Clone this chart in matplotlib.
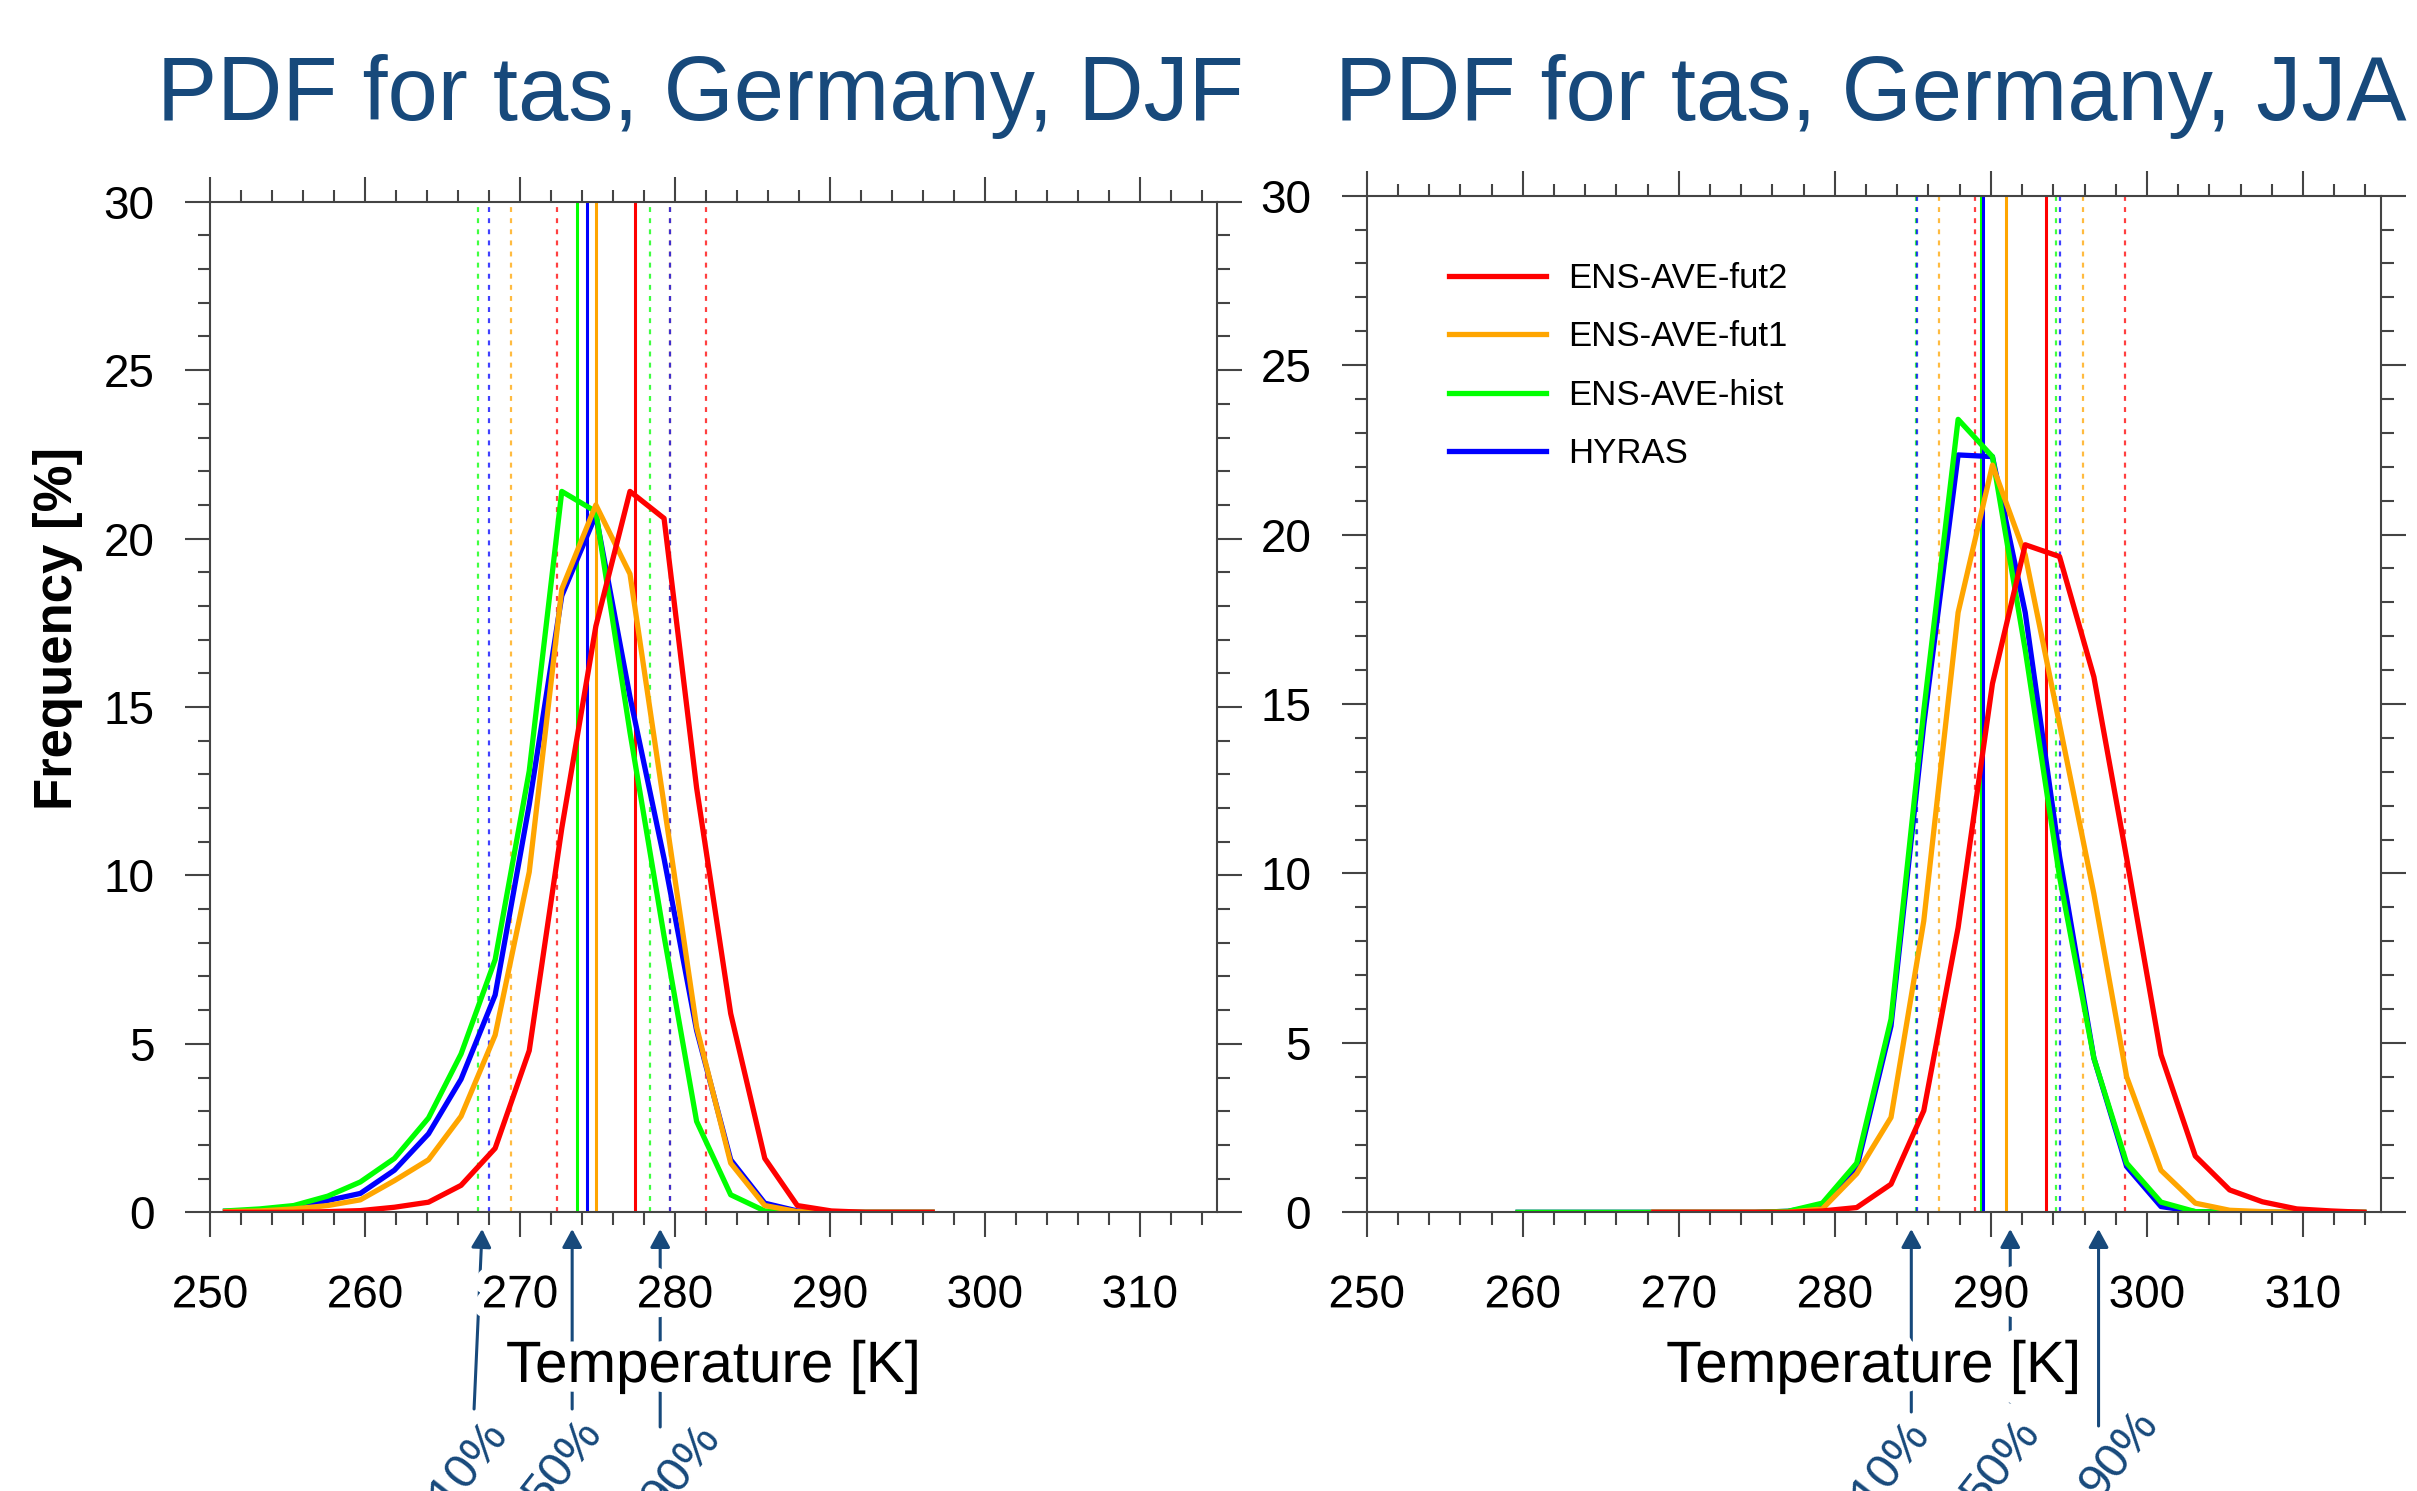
import numpy as np
import matplotlib
matplotlib.use("Agg")
import matplotlib.pyplot as plt
import matplotlib.transforms as mtransforms
from matplotlib import patheffects
from matplotlib.ticker import MultipleLocator

plt.rcParams['font.family'] = ['Liberation Sans', 'DejaVu Sans']

W, H = 2417, 1491
NAVY = '#17497b'

labels = ['ENS-AVE-fut2', 'ENS-AVE-fut1', 'ENS-AVE-hist', 'HYRAS']
colors = ['#ff0000', '#ffa500', '#00ff00', '#0000ff']

# DJF (winter) pdf, bin centres in K, frequency in %
djf_t = [251.0, 253.2, 255.4, 257.6, 259.7, 261.9, 264.1, 266.2, 268.4, 270.6, 272.7,
         274.9, 277.1, 279.3, 281.4, 283.6, 285.8, 287.9, 290.1, 292.3, 294.4, 296.6]
djf_fut2 = [0.0, 0.0, 0.0, 0.02, 0.05, 0.15, 0.3, 0.8, 1.9, 4.8, 11.4,
            17.4, 21.4, 20.6, 12.6, 5.9, 1.6, 0.2, 0.04, 0.0, 0.0, 0.0]
djf_fut1 = [0.02, 0.04, 0.1, 0.2, 0.37, 0.94, 1.56, 2.85, 5.26, 10.1, 18.5,
            21.0, 18.95, 12.1, 5.5, 1.46, 0.2, 0.02, 0.0, 0.0, 0.0, 0.0]
djf_hist = [0.04, 0.1, 0.2, 0.48, 0.9, 1.6, 2.8, 4.7, 7.5, 13.1, 21.4,
            20.8, 14.25, 8.2, 2.7, 0.52, 0.04, 0.0, 0.0, 0.0, 0.0, 0.0]
djf_hyras = [0.03, 0.06, 0.15, 0.35, 0.56, 1.25, 2.33, 3.95, 6.45, 12.1, 18.3,
             20.7, 15.3, 10.5, 5.4, 1.56, 0.27, 0.04, 0.0, 0.0, 0.0, 0.0]

# JJA (summer) pdf
jja_t = [259.7, 261.9, 264.0, 266.2, 268.4, 270.5, 272.7, 274.9, 277.0, 279.2, 281.4, 283.6, 285.7,
         287.9, 290.1, 292.2, 294.4, 296.6, 298.7, 300.9, 303.1, 305.3, 307.4, 309.6, 311.8, 313.9]
jja_fut2 = [np.nan, np.nan, np.nan, np.nan, 0.0, 0.0, 0.0, 0.0, 0.0, 0.04, 0.14, 0.83, 3.0,
            8.4, 15.6, 19.7, 19.35, 15.8, 10.45, 4.65, 1.66, 0.66, 0.31, 0.1, 0.04, 0.0]
jja_fut1 = [np.nan, np.nan, np.nan, np.nan, 0.0, 0.0, 0.0, 0.0, 0.0, 0.1, 1.14, 2.8, 8.6,
            17.7, 22.05, 19.4, 14.4, 9.4, 4.0, 1.24, 0.27, 0.06, 0.02, 0.0, 0.0, 0.0]
jja_hist = [0.0, 0.0, 0.0, 0.0, 0.0, 0.0, 0.0, 0.0, 0.03, 0.27, 1.45, 5.7, 14.8,
            23.4, 22.3, 16.6, 9.9, 4.55, 1.45, 0.3, 0.02, 0.0, 0.0, 0.0, 0.0, 0.0]
jja_hyras = [0.0, 0.0, 0.0, 0.0, 0.0, 0.0, 0.0, 0.0, 0.03, 0.2, 1.3, 5.5, 14.4,
             22.35, 22.3, 17.7, 10.5, 4.55, 1.35, 0.17, 0.02, 0.0, 0.0, 0.0, 0.0, 0.0]

# percentiles (order: fut2, fut1, hist, HYRAS)
djf_p10 = [272.4, 269.4, 267.3, 268.0]
djf_p50 = [277.4, 274.9, 273.65, 274.35]
djf_p90 = [282.0, 279.7, 278.4, 279.7]
jja_p10 = [289.0, 286.7, 285.2, 285.25]
jja_p50 = [293.5, 291.0, 289.35, 289.5]
jja_p90 = [298.6, 295.9, 294.15, 294.45]

pct_names = ['10%', '50%', '90%']
# arrow tips / tails in K, tail heights in px, label positions in px
djf_arrow_tip = [267.56, 273.37, 279.05]
djf_arrow_tail = [267.04, 273.37, 279.05]
djf_tail_px = [1409, 1409, 1427]
djf_pct_xy = [(468, 1412), (563, 1412), (682, 1416)]
jja_arrow_tip = [284.9, 291.24, 296.9]
jja_arrow_tail = [284.9, 291.24, 296.9]
jja_tail_px = [1412, 1402, 1426]
jja_pct_xy = [(1890, 1412), (2001, 1412), (2120, 1402)]

fig = plt.figure(figsize=(W / 100, H / 100), dpi=100)


def px_axes(x0, y0, x1, y1):
    return fig.add_axes([x0 / W, 1 - y1 / H, (x1 - x0) / W, (y1 - y0) / H])


ax_djf = px_axes(210, 201.7, 1217.3, 1212.3)
ax_jja = px_axes(1366.7, 195.7, 2381, 1212.3)

panels = [
    (ax_djf, 'DJF', 700, djf_t, [djf_fut2, djf_fut1, djf_hist, djf_hyras],
     [djf_p10, djf_p50, djf_p90], djf_arrow_tip, djf_arrow_tail, djf_tail_px, djf_pct_xy),
    (ax_jja, 'JJA', 1871, jja_t, [jja_fut2, jja_fut1, jja_hist, jja_hyras],
     [jja_p10, jja_p50, jja_p90], jja_arrow_tip, jja_arrow_tail, jja_tail_px, jja_pct_xy),
]

white_edge = [patheffects.withStroke(linewidth=14, foreground='white')]

for ax, season, title_x, t, series, pcts, tips, tails, tail_px, pct_xy in panels:
    # percentile lines, hyras drawn last
    for k in range(4):
        ax.axvline(pcts[0][k], color=colors[k], lw=1.6, dashes=(2.2, 2.8), alpha=0.75, zorder=1)
        ax.axvline(pcts[2][k], color=colors[k], lw=1.6, dashes=(2.2, 2.8), alpha=0.75, zorder=1)
        ax.axvline(pcts[1][k], color=colors[k], lw=2.2, zorder=1.2)
    for k in [3, 2, 1, 0]:
        ax.plot(t, series[k], color=colors[k], lw=3.8, label=labels[k], zorder=2)

    ax.set_xlim(250, 315)
    ax.set_ylim(0, 30)
    ax.set_xticks(np.arange(250, 320, 10))
    ax.xaxis.set_minor_locator(MultipleLocator(2))
    ax.yaxis.set_major_locator(MultipleLocator(5))
    ax.yaxis.set_minor_locator(MultipleLocator(1))
    ax.tick_params(which='both', direction='out', top=True, right=True,
                   width=1.5, color='#444444', labelsize=33)
    ax.tick_params(which='major', length=18, pad=22)
    ax.tick_params(axis='x', which='major', pad=26)
    ax.tick_params(which='minor', length=9)
    for s in ax.spines.values():
        s.set_color('#444444')
        s.set_linewidth(1.5)

    ax.set_xlabel('Temperature [K]', fontsize=42, va='top')
    ax.xaxis.set_label_coords(0.5, -(1340 - 1212.3) / (ax.bbox.height))
    ax.xaxis.label.set_path_effects(white_edge)
    for lbl in ax.get_xticklabels():
        lbl.set_path_effects(white_edge)

    fig.text(title_x / W, 1 - 120 / H, 'PDF for tas, Germany, ' + season,
             ha='center', va='baseline', fontsize=65, color=NAVY)

    trans = mtransforms.blended_transform_factory(ax.transData, ax.transAxes)
    bottom_px = 1212.3
    hpx = ax.bbox.height
    for n in range(3):
        ax.annotate('', xy=(tips[n], -(1229 - bottom_px) / hpx), xycoords=trans,
                    xytext=(tails[n], -(tail_px[n] - bottom_px) / hpx), textcoords=trans,
                    arrowprops=dict(arrowstyle='-|>,head_length=0.55,head_width=0.3',
                                    color=NAVY, lw=2.2, shrinkA=0, shrinkB=0,
                                    mutation_scale=20),
                    annotation_clip=False, zorder=1)
        fig.text(pct_xy[n][0] / W, 1 - pct_xy[n][1] / H, pct_names[n], rotation=52,
                 ha='center', va='top', fontsize=35, color=NAVY)

fig.text(58 / W, 1 - 628 / H, 'Frequency [%]', rotation=90, fontsize=38,
         fontweight='bold', ha='center', va='center')

leg_handles = [ax_jja.get_lines()[-1 - k] for k in range(4)]
ax_jja.legend(leg_handles, labels, loc='upper left',
              bbox_to_anchor=((1449 - 1366.7) / 1014.3, (1212.3 - 262) / 1016.6),
              frameon=False, fontsize=25, handlelength=2.8, handletextpad=0.63,
              labelspacing=0.73, borderpad=0, borderaxespad=0)

fig.savefig('out.png', dpi=100)
